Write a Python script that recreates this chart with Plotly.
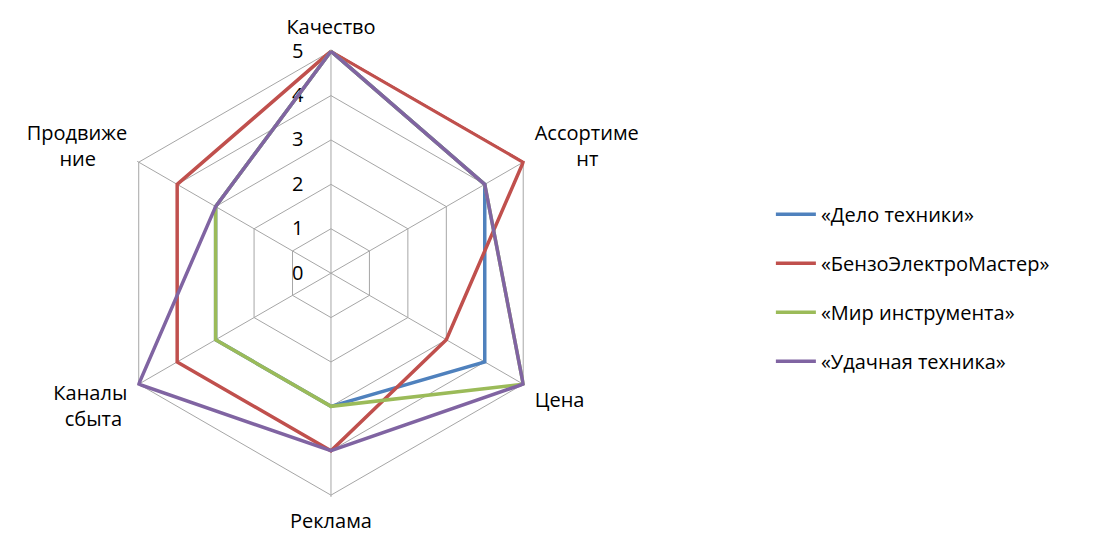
import plotly.graph_objects as go

NB = "\u00a0"
categories = ["Качество", "Ассортиме<br>" + NB * 8 + "нт", "Цена", "Реклама",
              "Каналы<br>сбыта" + NB, "Продвиже<br>ние" + NB * 6]
series_names = ["«Дело техники»", "«БензоЭлектроМастер»", "«Мир инструмента»", "«Удачная техника»"]
delo = [5, 4, 4, 3, 3, 3]
benzo = [5, 5, 3, 4, 4, 4]
mir = [5, 4, 5, 3, 3, 3]
udach = [5, 4, 5, 4, 5, 3]
colors = ["#4F81BD", "#C0504D", "#9BBB59", "#8064A2"]
radial_ticks = [0, 1, 2, 3, 4, 5]

fig = go.Figure()
for name, vals, col in zip(series_names, [delo, benzo, mir, udach], colors):
    fig.add_trace(go.Scatterpolar(
        r=vals + [vals[0]], theta=categories + [categories[0]],
        mode="lines", name=name, line=dict(color=col, width=3.5),
        legendgroup=name, cliponaxis=False,
    ))

fig.update_layout(
    width=1106, height=533,
    margin=dict(l=0, r=0, t=0, b=0),
    paper_bgcolor="white",
    font=dict(family="Open Sans", size=20, color="#000"),
    polar=dict(
        domain=dict(x=[0.0969, 0.5016], y=[0.0677, 0.9073]),
        gridshape="linear",
        bgcolor="white",
        angularaxis=dict(direction="clockwise", rotation=90,
                         gridcolor="#A6A6A6", showline=False, ticks="outside",
                         ticklen=7, tickcolor="rgba(0,0,0,0)", layer="below traces",
                         tickfont=dict(size=20)),
        radialaxis=dict(range=[0, 5.04], tickvals=radial_ticks, angle=90, tickangle=90,
                        showline=False, gridcolor="#A6A6A6", ticks="outside",
                        ticklen=20, tickcolor="rgba(0,0,0,0)", layer="below traces",
                        tickfont=dict(size=20), side="counterclockwise"),
    ),
    legend=dict(x=0.697, y=0.46, yanchor="middle", xanchor="left",
                font=dict(size=20), tracegroupgap=20, itemwidth=40),
)
fig.write_html("out.html")
